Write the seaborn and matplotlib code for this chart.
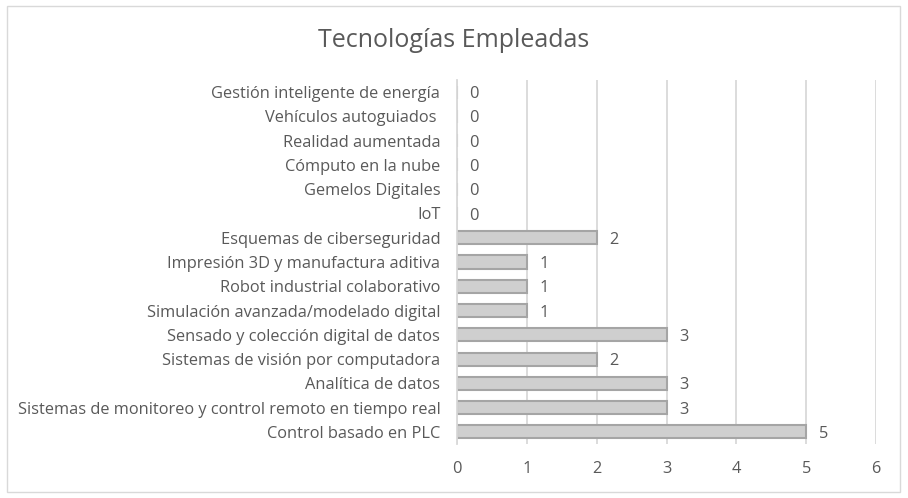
import matplotlib
matplotlib.use("Agg")
import matplotlib.pyplot as plt
import seaborn as sns
import pandas as pd
from matplotlib.patches import Rectangle

categories = [
    "Gestión inteligente de energía",
    "Vehículos autoguiados ",
    "Realidad aumentada",
    "Cómputo en la nube",
    "Gemelos Digitales",
    "IoT",
    "Esquemas de ciberseguridad",
    "Impresión 3D y manufactura aditiva",
    "Robot industrial colaborativo",
    "Simulación avanzada/modelado digital",
    "Sensado y colección digital de datos",
    "Sistemas de visión por computadora",
    "Analítica de datos",
    "Sistemas de monitoreo y control remoto en tiempo real",
    "Control basado en PLC",
]
values = [0, 0, 0, 0, 0, 0, 2, 1, 1, 1, 3, 2, 3, 3, 5]
x_ticks = [0, 1, 2, 3, 4, 5, 6]

title = "Tecnologías Empleadas"
text_color = "#595959"
grid_color = "#d9d9d9"

sns.set_theme(style="white")
plt.rcParams["font.family"] = ["Open Sans", "DejaVu Sans"]

df = pd.DataFrame({"tech": categories, "n": values})

fig = plt.figure(figsize=(9.08, 4.98), dpi=100)
ax = fig.add_axes([0.5033, 0.1084, 0.4615, 0.7310])

sns.barplot(data=df, x="n", y="tech", order=categories, color="#cfcfcf",
            edgecolor="#a5a5a5", linewidth=1.5, width=0.54, saturation=1,
            ax=ax)

ax.set_xlim(0, 6)
ax.set_ylim(len(categories) - 0.5, -0.5)
ax.set_xticks(x_ticks)
ax.xaxis.grid(True, color=grid_color, linewidth=1.3)
ax.set_axisbelow(True)
for side in ["top", "right", "bottom"]:
    ax.spines[side].set_visible(False)
ax.spines["left"].set_color(grid_color)
ax.spines["left"].set_linewidth(1.3)
ax.set_xlabel("")
ax.set_ylabel("")
ax.tick_params(axis="both", length=0, colors=text_color, labelsize=11.8)
ax.tick_params(axis="x", pad=12)
ax.tick_params(axis="y", pad=12)

for i, v in enumerate(values):
    ax.annotate(str(v), (v, i), xytext=(9, -1.5), textcoords="offset points",
                va="center", ha="left", color=text_color, fontsize=11.8)

fig.text(0.5, 0.918, title, ha="center", va="center", fontsize=18,
         color=text_color)

fig.patches.append(Rectangle((7 / 908, 6 / 498), 893 / 908, 486 / 498,
                             transform=fig.transFigure, fill=False,
                             edgecolor="#d9d9d9", linewidth=1))

fig.savefig("out.png", dpi=100)
